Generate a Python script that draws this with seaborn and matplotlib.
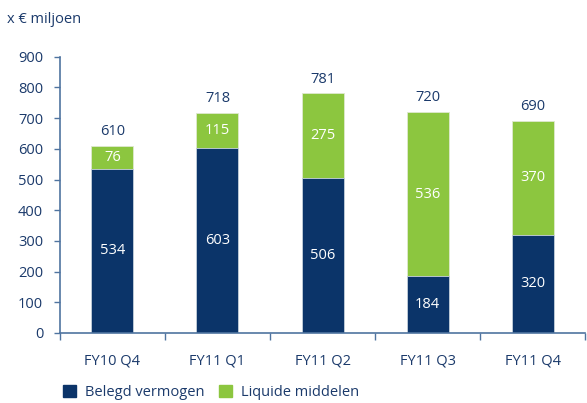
import numpy as np
import pandas as pd
import seaborn as sns
import matplotlib.pyplot as plt
from matplotlib.patches import Patch

quarters = ['FY10 Q4', 'FY11 Q1', 'FY11 Q2', 'FY11 Q3', 'FY11 Q4']
belegd = [534, 603, 506, 184, 320]
liquide = [76, 115, 275, 536, 370]
totals = [610, 718, 781, 720, 690]

blue = '#0b3469'
green = '#8cc63f'
txt = '#1b3a6b'
axcol = '#4f74a0'
fs = 10.5

sns.set_theme(style='white')
plt.rcParams['font.family'] = ['Open Sans', 'DejaVu Sans']

df = pd.DataFrame({'Kwartaal': quarters, 'Belegd': belegd,
                   'Liquide': liquide, 'Totaal': totals})

fig = plt.figure(figsize=(5.87, 4.03), dpi=100)
ax = fig.add_axes([0.102, 0.174, 0.895, 0.685])

# green = total height, blue drawn over it
sns.barplot(df, x='Kwartaal', y='Totaal', color=green, width=0.4,
            saturation=1, ax=ax, edgecolor='#dfe8d0', linewidth=0.6)
sns.barplot(df, x='Kwartaal', y='Belegd', color=blue, width=0.4,
            saturation=1, ax=ax, edgecolor='#c9d3e0', linewidth=0.6)

for i in range(len(quarters)):
    ax.text(i, belegd[i] / 2, str(belegd[i]), ha='center', va='center',
            color='white', fontsize=fs)
    ax.text(i, belegd[i] + liquide[i] / 2, str(liquide[i]), ha='center',
            va='center', color='white', fontsize=fs)
    ax.text(i, totals[i] + 22, str(totals[i]), ha='center', va='bottom',
            color=txt, fontsize=fs)

ax.set_xlim(-0.5, 4.5)
ax.set_ylim(0, 900)
ax.set_yticks(range(0, 1000, 100))
ax.set_xlabel('')
ax.set_ylabel('')
ax.set_xticks(np.arange(-0.5, 5, 1), minor=True)
ax.tick_params(axis='x', which='major', length=0, pad=15, labelsize=fs,
               labelcolor=txt)
ax.tick_params(axis='x', which='minor', length=5, color=axcol, width=1,
               direction='out', bottom=True)
ax.tick_params(axis='y', length=4, color=axcol, width=1, direction='out',
               left=True, labelsize=fs, labelcolor=txt, pad=8)
for s in ['top', 'right']:
    ax.spines[s].set_visible(False)
for s in ['left', 'bottom']:
    ax.spines[s].set_color(axcol)
    ax.spines[s].set_linewidth(1.2)

fig.text(0.012, 0.952, 'x € miljoen', color=txt, fontsize=fs, va='center')

handles = [Patch(color=blue, label='Belegd vermogen'),
           Patch(color=green, label='Liquide middelen')]
fig.legend(handles=handles, loc='lower left', bbox_to_anchor=(0.085, -0.025),
           ncol=2, frameon=False, fontsize=fs, labelcolor=txt,
           handlelength=0.9, handleheight=0.9, handletextpad=0.6,
           columnspacing=1.0)

fig.savefig('out.png', dpi=100)
